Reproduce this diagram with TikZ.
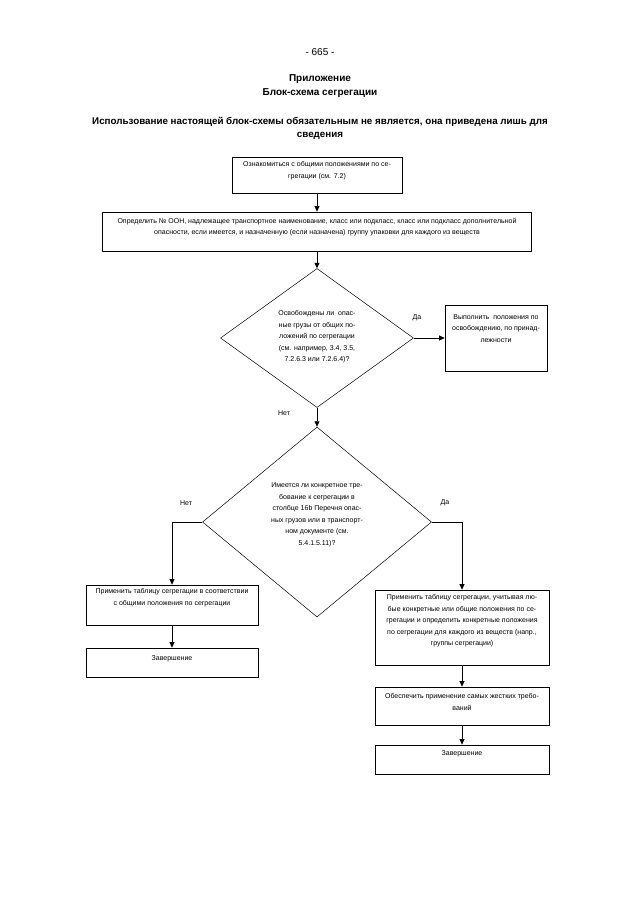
\documentclass[tikz,border=0pt]{standalone}
\usepackage{fontspec}
\setmainfont{Liberation Sans}
\usetikzlibrary{shapes.geometric,arrows.meta,calc}
\begin{document}
\begin{tikzpicture}[x=1pt,y=-1pt,
 box/.style={draw,line width=0.7pt,inner sep=0pt},
 dia/.style={draw,diamond,line width=0.5pt,inner sep=0pt},
 txt/.style={inner sep=0pt,align=center,font=\fontsize{7}{11.5}\selectfont},
 lbl/.style={inner sep=0pt,font=\fontsize{7}{8}\selectfont},
 arr/.style={line width=0.8pt,-{Triangle[length=5.5pt,width=5pt]}},
 head/.style={inner sep=0pt,align=center,font=\fontsize{10}{14.5}\selectfont\bfseries},
 sub/.style={inner sep=0pt,align=center,font=\fontsize{9.8}{13.5}\selectfont\bfseries}]
\useasboundingbox[fill=white] (0,0) rectangle (640,905);

\node[inner sep=0pt,font=\fontsize{10}{12}\selectfont] (pg) at (320,52) {- 665 -};
\node[head] (t1) at (320,86) {Приложение\\Блок-схема сегрегации};
\node[sub] (t2) at (320,128.5) {Использование настоящей блок-схемы обязательным не является, она приведена лишь для\\сведения};

% boxes
\node[box,minimum width=170pt,minimum height=36pt] (b1) at (317,175) {};
\node[txt,anchor=north] (b1t) at ($(b1.north)+(0,5)$) {Ознакомиться с общими положениями по се-\\грегации (см. 7.2)};

\node[box,minimum width=429pt,minimum height=39pt] (b2) at (317,231.5) {};
\node[txt,anchor=north] (b2t) at ($(b2.north)+(0,6)$) {Определить № ООН, надлежащее транспортное наименование, класс или подкласс, класс или подкласс дополнительной\\опасности, если имеется, и назначенную (если назначена) группу упаковки для каждого из веществ};

\node[dia,minimum width=193pt,minimum height=139pt] (d1) at (317,338) {};
\node[txt] (d1t) at (317,337) {Освобождены ли\ \ опас-\\ные грузы от общих по-\\ложений по сегрегации\\(см. например, 3.4, 3.5,\\7.2.6.3 или 7.2.6.4)?};

\node[box,minimum width=102pt,minimum height=66pt] (b3) at (496,338) {};
\node[txt,anchor=north] (b3t) at ($(b3.north)+(0,9.5)$) {Выполнить\ \ положения по\\освобождению, по принад-\\лежности};

\node[dia,minimum width=229pt,minimum height=190pt] (d2) at (317,522) {};
\node[txt] (d2t) at (317,515) {Имеется ли конкретное тре-\\бование к сегрегации в\\столбце 16b Перечня опас-\\ных грузов или в транспорт-\\ном документе (см.\\5.4.1.5.11)?};

\node[box,minimum width=172pt,minimum height=40pt] (b4) at (172,605) {};
\node[txt,anchor=north] (b4t) at ($(b4.north)+(0,4)$) {Применить таблицу сегрегации в соответствии\\с общими положения по сегрегации};

\node[box,minimum width=172pt,minimum height=29pt] (b5) at (172,662.5) {};
\node[txt,anchor=north] (b5t) at ($(b5.north)+(0,8)$) {Завершение};

\node[box,minimum width=174pt,minimum height=75pt] (b6) at (462,627.5) {};
\node[txt,anchor=north] (b6t) at ($(b6.north)+(0,5)$) {Применить таблицу сегрегации, учитывая лю-\\бые конкретные или общие положения по се-\\грегации и определить конкретные положения\\по сегрегации для каждого из веществ (напр.,\\группы сегрегации)};

\node[box,minimum width=174pt,minimum height=38pt] (b7) at (462,706) {};
\node[txt,anchor=north] (b7t) at ($(b7.north)+(0,7)$) {Обеспечить применение самых жестких требо-\\ваний};

\node[box,minimum width=174pt,minimum height=29pt] (b8) at (462,759.5) {};
\node[txt,anchor=north] (b8t) at ($(b8.north)+(0,6)$) {Завершение};

% labels
\node[lbl] (l1) at (417,318) {Да};
\node[lbl] (l2) at (284,413) {Нет};
\node[lbl] (l3) at (186,503) {Нет};
\node[lbl] (l4) at (445,503) {Да};

% connectors
\draw[arr] (b1.south) -- (b2.north);
\draw[arr] (b2.south) -- (d1.north);
\draw[arr] (d1.east) -- (b3.west);
\draw[arr] (d1.south) -- (d2.north);
\draw[arr] (d2.west) -| (b4.north);
\draw[arr] (d2.east) -| (b6.north);
\draw[arr] (b4.south) -- (b5.north);
\draw[arr] (b6.south) -- (b7.north);
\draw[arr] (b7.south) -- (b8.north);
\end{tikzpicture}
\end{document}
